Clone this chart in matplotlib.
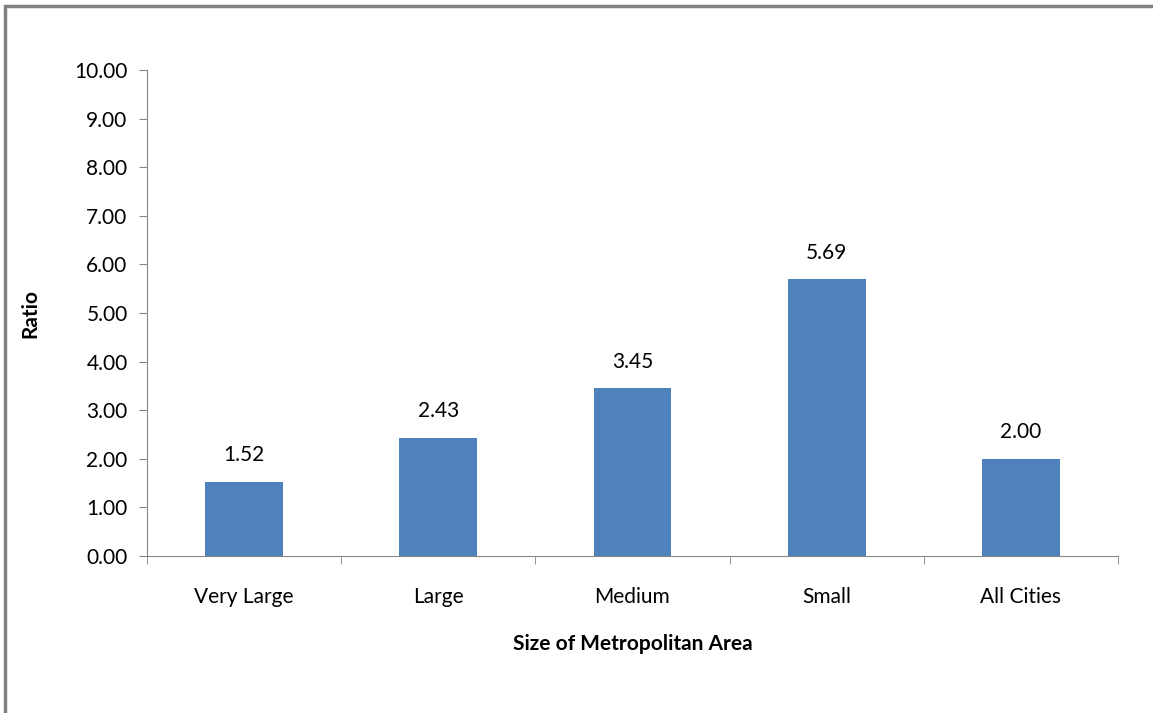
import matplotlib.pyplot as plt
from matplotlib.patches import Rectangle

categories = ["Very Large", "Large", "Medium", "Small", "All Cities"]
ratios = [1.52, 2.43, 3.45, 5.69, 2.00]
yticks = [0, 1, 2, 3, 4, 5, 6, 7, 8, 9, 10]

plt.rcParams.update({"font.family": ["Lato", "DejaVu Sans"], "font.size": 15})
fig = plt.figure(figsize=(11.53, 7.13), dpi=100)
ax = fig.add_axes([147/1153, 1-556/713, (1118-147)/1153, (556-70)/713])

x = range(len(categories))
ax.bar(x, ratios, width=0.4, color="#4F81BD")
for i, v in zip(x, ratios):
    ax.annotate("%.2f" % v, (i, v), xytext=(0, 12), textcoords="offset points",
                ha="center", va="bottom", fontsize=15)

ax.set_xlim(-0.5, len(categories) - 0.5)
ax.set_ylim(0, 10)
ax.set_yticks(yticks)
ax.set_yticklabels(["%.2f" % t for t in yticks])
ax.set_xticks(x)
ax.set_xticklabels(categories)
ax.set_xticks([i - 0.5 for i in range(len(categories) + 1)], minor=True)
ax.tick_params(axis="x", which="major", length=0, pad=22)
ax.tick_params(axis="x", which="minor", length=6, color="#868686")
ax.tick_params(axis="y", length=6, color="#868686", pad=8)
for s in ("top", "right"):
    ax.spines[s].set_visible(False)
for s in ("left", "bottom"):
    ax.spines[s].set_color("#868686")
ax.set_ylabel("Ratio", fontweight="bold", fontsize=15, labelpad=24)
ax.set_xlabel("Size of Metropolitan Area", fontweight="bold", fontsize=15, labelpad=20)

# outer chart frame
fig.patches.append(Rectangle((5/1153, -0.1), 1.1, 1 - 6/713 + 0.1, transform=fig.transFigure,
                             fill=False, edgecolor="#808080", linewidth=2.5))

fig.savefig("out.png", dpi=100)
